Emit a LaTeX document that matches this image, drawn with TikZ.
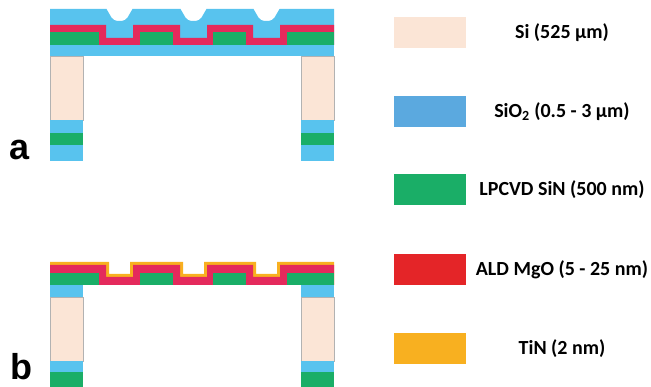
\documentclass[tikz,border=0pt]{standalone}
\usepackage{fontspec}
\setmainfont{Carlito}
\newfontfamily\panelfont{Liberation Sans}
\usetikzlibrary{positioning}

\definecolor{si}{HTML}{FBE5D6}
\definecolor{sio2}{HTML}{58C3EE}
\definecolor{sio2key}{HTML}{5BA9DF}
\definecolor{sin}{HTML}{1AAE67}
\definecolor{mgo}{HTML}{E42A5C}
\definecolor{mgokey}{HTML}{E42528}
\definecolor{tin}{HTML}{F8B020}

% stepped top surface of the patterned membrane: #1 top, #2 bottom in the gaps, #3 inset of the gap walls
\newcommand{\steppath}[3]{(50,#1) -- (106+#3,#1) -- (106+#3,#2) -- (133-#3,#2) -- (133-#3,#1)
  -- (180+#3,#1) -- (180+#3,#2) -- (207-#3,#2) -- (207-#3,#1)
  -- (253+#3,#1) -- (253+#3,#2) -- (280-#3,#2) -- (280-#3,#1) -- (334,#1)}

\begin{document}
\begin{tikzpicture}[x=1pt, y=-1pt,
        key/.style={rectangle, minimum width=72pt, minimum height=31pt, inner sep=0pt},
        keytext/.style={font=\bfseries\fontsize{20}{23}\selectfont, inner sep=0pt},
        panel/.style={font=\panelfont\bfseries\fontsize{36}{40}\selectfont, inner sep=0pt, anchor=base west},
        substrate/.style={fill=si, draw=black!30, line width=0.6pt}
    ]
    \useasboundingbox (0,0) rectangle (651,387);

    % (a) membrane with SiO2 cladding
    \fill[sio2] (50,45) -- (50,9)
        \foreach \c in {119.5,193.5,266.5} {-- (\c-13,9) [rounded corners=4pt] -- (\c-6,21) -- (\c+6,21) [sharp corners] -- (\c+13,9)}
        -- (334,9) -- (334,45) -- cycle;
    \fill[mgo] \steppath{25}{38}{0} -- (334,45) -- (50,45) -- cycle;
    \foreach \xa/\xb in {50/99,140/173,213/246,287/334}
        \fill[sin] (\xa,32) rectangle (\xb,45);
    \fill[sio2] (50,45) rectangle (334,56);
    \foreach \x in {50,301} {
        \filldraw[substrate] (\x,56) rectangle (\x+33,120);
        \fill[sio2] (\x,120) rectangle (\x+33,133);
        \fill[sin] (\x,133) rectangle (\x+33,145);
        \fill[sio2] (\x,145) rectangle (\x+33,161);
    }
    \node[panel] (labela) at (9,160) {a};

    % (b) released membrane with TiN on top
    \fill[tin] \steppath{262}{274}{3} -- (334,285) -- (50,285) -- cycle;
    \fill[mgo] \steppath{265}{277}{0} -- (334,285) -- (50,285) -- cycle;
    \foreach \xa/\xb in {50/99,140/173,213/246,287/334}
        \fill[sin] (\xa,273) rectangle (\xb,285);
    \foreach \x in {50,301} {
        \fill[sio2] (\x,285) rectangle (\x+33,297);
        \filldraw[substrate] (\x,297) rectangle (\x+33,361);
        \fill[sio2] (\x,361) rectangle (\x+33,372);
        \fill[sin] (\x,372) rectangle (\x+33,387);
    }
    \node[panel] (labelb) at (10,380) {b};

    % legend
    \foreach \y/\col/\txt [count=\i] in {
        32.5/si/Si (525 µm),
        111.5/sio2key/SiO\textsubscript{2} (0.5 - 3 µm),
        190/sin/LPCVD SiN (500 nm),
        270/mgokey/ALD MgO (5 - 25 nm),
        349/tin/TiN (2 nm)} {
        \node[key, fill=\col] (key\i) at (430,\y) {};
        \node[keytext] (keylabel\i) at (562,\y) {\txt};
    }
\end{tikzpicture}
\end{document}
